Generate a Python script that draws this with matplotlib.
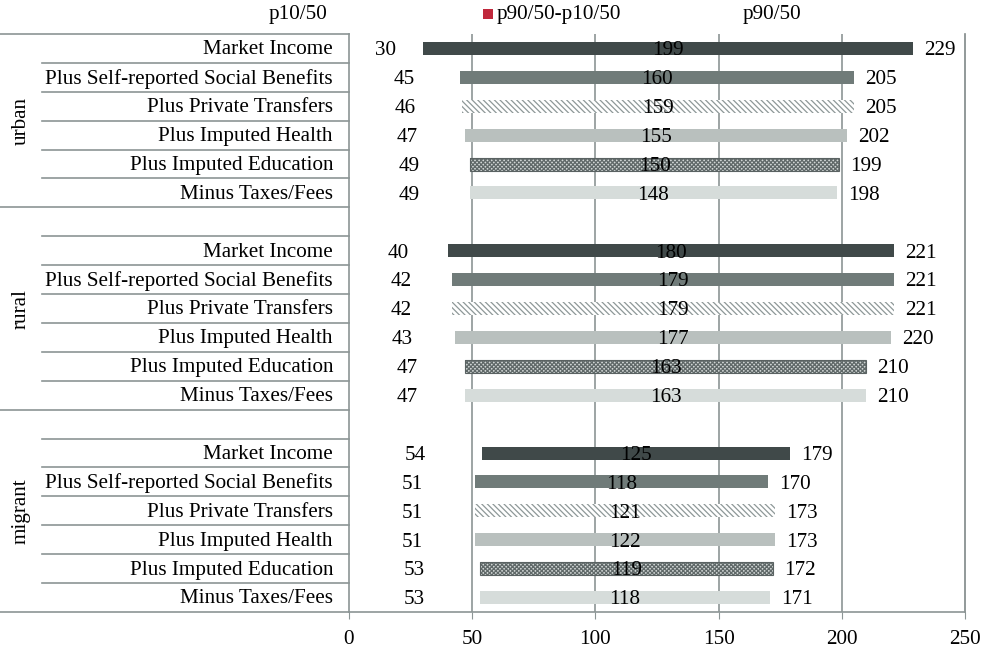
import matplotlib
matplotlib.use('Agg')
import matplotlib.pyplot as plt
import matplotlib.transforms as mtransforms
import numpy as np

plt.rcParams['font.family'] = ['Liberation Serif', 'DejaVu Serif']
plt.rcParams['hatch.linewidth'] = 0.9

# data
groups = ['urban', 'rural', 'migrant']
categories = ['Market Income', 'Plus Self-reported Social Benefits', 'Plus Private Transfers',
              'Plus Imputed Health', 'Plus Imputed Education', 'Minus Taxes/Fees']
urban_p10 = [30, 45, 46, 47, 49, 49]
urban_p90 = [229, 205, 205, 202, 199, 198]
urban_diff = [199, 160, 159, 155, 150, 148]
rural_p10 = [40, 42, 42, 43, 47, 47]
rural_p90 = [221, 221, 221, 220, 210, 210]
rural_diff = [180, 179, 179, 177, 163, 163]
migrant_p10 = [54, 51, 51, 51, 53, 53]
migrant_p90 = [179, 170, 173, 173, 172, 171]
migrant_diff = [125, 118, 121, 122, 119, 118]
xticks = [0, 50, 100, 150, 200, 250]

p10_all = [urban_p10, rural_p10, migrant_p10]
p90_all = [urban_p90, rural_p90, migrant_p90]
diff_all = [urban_diff, rural_diff, migrant_diff]

# styles per category
styles = [
    dict(facecolor='#404949', edgecolor='#404949', hatch=None),
    dict(facecolor='#707b79', edgecolor='#707b79', hatch=None),
    dict(facecolor='white', edgecolor='#8e9898', hatch='\\\\\\\\\\\\'),
    dict(facecolor='#b9c0be', edgecolor='#b9c0be', hatch=None),
    dict(facecolor='#d0d5d4', edgecolor='#5f6868', hatch='xxxxxxxx'),
    dict(facecolor='#d6dcda', edgecolor='#d6dcda', hatch=None),
]

line_col = '#8c9595'
fs = 15.2

fig = plt.figure(figsize=(9.83, 6.5), dpi=100)
W, H = 983, 650
x0, x1 = 349, 965
y_top, y_bot = 34, 612
ax = fig.add_axes([x0 / W, 1 - y_bot / H, (x1 - x0) / W, (y_bot - y_top) / H])

# row layout: urban rows 0-5, rural blank 6 + 7-12, migrant blank 13 + 14-19
group_rows = []
row = 0
for gi, g in enumerate(groups):
    start = row
    if gi > 0:
        row += 1  # blank row
    rows = list(range(row, row + len(categories)))
    row += len(categories)
    group_rows.append((start, row - 1, rows))
n_rows = row

bh = 0.45
for gi, (gs, ge, rows) in enumerate(group_rows):
    for ci, r in enumerate(rows):
        p10 = p10_all[gi][ci]
        p90 = p90_all[gi][ci]
        d = diff_all[gi][ci]
        st = styles[ci]
        ax.barh(r, p90 - p10, left=p10, height=bh, facecolor=st['facecolor'],
                edgecolor=st['edgecolor'], hatch=st['hatch'], linewidth=0, zorder=3)
        if ci == 4:
            ax.barh(r, p90 - p10, left=p10, height=bh, facecolor='none',
                    edgecolor='#5a6262', linewidth=0.8, zorder=3)
        ax.text(p10 / 2, r + 0.08, str(p10), ha='center', va='center', fontsize=fs, zorder=4)
        ax.text((p10 + p90) / 2, r + 0.08, str(d), ha='center', va='center', fontsize=fs, zorder=4)
        ax.annotate(str(p90), (p90, r + 0.08), xytext=(8, 0), textcoords='offset points',
                    ha='left', va='center', fontsize=fs, zorder=4)

ax.set_xlim(0, 250)
ax.set_ylim(n_rows - 0.5, -0.5)
ax.set_xticks(xticks)
ax.set_xticklabels([str(t) for t in xticks], fontsize=fs)
ax.set_yticks([])
ax.tick_params(axis='x', length=5, color=line_col, pad=8)
for t in xticks[1:-1]:
    ax.axvline(t, color=line_col, lw=1.2, zorder=1)
for s in ['top', 'left']:
    ax.spines[s].set_visible(False)
ax.spines['right'].set_color('#7f8888')
ax.spines['right'].set_linewidth(1.2)
ax.spines['bottom'].set_color(line_col)
ax.spines['bottom'].set_linewidth(1.2)

# left table
trans = mtransforms.blended_transform_factory(ax.transAxes, ax.transData)
ax_w = x1 - x0
fx_left = (0 - x0) / ax_w
fx_col = (42 - x0) / ax_w
fx_right = 0.0
label_x = (333 - x0) / ax_w
grp_x = (21 - x0) / ax_w

ax.plot([fx_left, fx_right], [-0.5, -0.5], transform=trans, color=line_col, lw=1.2, clip_on=False)
ax.plot([fx_right, fx_right], [-0.5, n_rows - 0.5], transform=trans, color=line_col, lw=1.2, clip_on=False)
for gi, (gs, ge, rows) in enumerate(group_rows):
    for r in range(gs, ge):
        ax.plot([fx_col, fx_right], [r + 0.5, r + 0.5], transform=trans, color=line_col,
                lw=1.2, clip_on=False)
    ax.plot([fx_left, fx_right], [ge + 0.5, ge + 0.5], transform=trans, color=line_col,
            lw=1.2, clip_on=False)
    ax.text(grp_x, (gs + ge) / 2, groups[gi], transform=trans, rotation=90, ha='center',
            va='center', fontsize=fs)
    for ci, r in enumerate(rows):
        ax.text(label_x, r + 0.05, categories[ci], transform=trans, ha='right', va='center', fontsize=fs)

# legend-like header
fig.text(298 / W, 1 - 14 / H, 'p10/50', ha='center', va='center', fontsize=fs)
fig.patches.append(plt.Rectangle((483 / W, 1 - 19 / H), 10 / W, 10 / H, transform=fig.transFigure,
                                 facecolor='#c0283c', edgecolor='none'))
fig.text(497 / W, 1 - 14 / H, 'p90/50-p10/50', ha='left', va='center', fontsize=fs)
fig.text(772 / W, 1 - 14 / H, 'p90/50', ha='center', va='center', fontsize=fs)

fig.savefig('out.png', dpi=100)
